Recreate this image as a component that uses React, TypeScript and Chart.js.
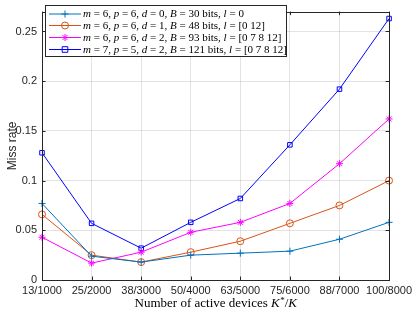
import React, { useEffect, useRef } from "react";
import { Chart, registerables } from "chart.js";

Chart.register(...registerables);

const categories = ["13/1000", "25/2000", "38/3000", "50/4000", "63/5000", "75/6000", "88/7000", "100/8000"];
const seriesD0 = [0.077, 0.024, 0.018, 0.025, 0.027, 0.029, 0.041, 0.058];
const seriesD1 = [0.066, 0.025, 0.018, 0.028, 0.039, 0.057, 0.075, 0.1];
const seriesD2 = [0.043, 0.017, 0.028, 0.048, 0.058, 0.077, 0.117, 0.162];
const seriesM7 = [0.128, 0.057, 0.032, 0.058, 0.082, 0.136, 0.192, 0.263];
const yTicks = [0, 0.05, 0.1, 0.15, 0.2, 0.25];

type Seg = { t: string; i?: boolean };
const legendLabels: Seg[][] = [
  [{ t: "m", i: true }, { t: " = 6, " }, { t: "p", i: true }, { t: " = 6, " }, { t: "d", i: true }, { t: " = 0, " }, { t: "B", i: true }, { t: " = 30 bits, " }, { t: "l", i: true }, { t: " = 0" }],
  [{ t: "m", i: true }, { t: " = 6, " }, { t: "p", i: true }, { t: " = 6, " }, { t: "d", i: true }, { t: " = 1, " }, { t: "B", i: true }, { t: " = 48 bits, " }, { t: "l", i: true }, { t: " = [0 12]" }],
  [{ t: "m", i: true }, { t: " = 6, " }, { t: "p", i: true }, { t: " = 6, " }, { t: "d", i: true }, { t: " = 2, " }, { t: "B", i: true }, { t: " = 93 bits, " }, { t: "l", i: true }, { t: " = [0 7 8 12]" }],
  [{ t: "m", i: true }, { t: " = 7, " }, { t: "p", i: true }, { t: " = 5, " }, { t: "d", i: true }, { t: " = 2, " }, { t: "B", i: true }, { t: " = 121 bits, " }, { t: "l", i: true }, { t: " = [0 7 8 12]" }],
];

const colors = ["#0072BD", "#D95319", "#FF00FF", "#0000FF"];
const markers = ["cross", "circle", "star", "rect"];
const AX = "#262626";
const SERIF = '"Liberation Serif", "DejaVu Serif", serif';
const SANS = '"Liberation Sans", Arial, sans-serif';

function drawMarker(ctx: CanvasRenderingContext2D, kind: string, x: number, y: number, r: number, color: string) {
  ctx.save();
  ctx.strokeStyle = color;
  ctx.lineWidth = 1;
  ctx.beginPath();
  if (kind === "cross") {
    ctx.moveTo(x - r, y); ctx.lineTo(x + r, y);
    ctx.moveTo(x, y - r); ctx.lineTo(x, y + r);
  } else if (kind === "circle") {
    ctx.arc(x, y, r, 0, Math.PI * 2);
  } else if (kind === "star") {
    ctx.moveTo(x - r, y); ctx.lineTo(x + r, y);
    ctx.moveTo(x, y - r); ctx.lineTo(x, y + r);
    const d = r * 0.7071;
    ctx.moveTo(x - d, y - d); ctx.lineTo(x + d, y + d);
    ctx.moveTo(x - d, y + d); ctx.lineTo(x + d, y - d);
  } else {
    ctx.rect(x - r * 0.8, y - r * 0.8, r * 1.6, r * 1.6);
  }
  ctx.stroke();
  ctx.restore();
}

function drawSegs(ctx: CanvasRenderingContext2D, segs: Seg[], x: number, y: number, size: number) {
  let cx = x;
  for (const s of segs) {
    ctx.font = `${s.i ? "italic " : ""}${size}px ${SERIF}`;
    ctx.fillText(s.t, cx, y);
    cx += ctx.measureText(s.t).width;
  }
}

const decorPlugin = {
  id: "decor",
  afterDraw(chart: any) {
    const ctx: CanvasRenderingContext2D = chart.ctx;
    const a = chart.chartArea;
    const xs = chart.scales.x;
    const ys = chart.scales.y;
    ctx.save();
    // box
    ctx.strokeStyle = AX;
    ctx.lineWidth = 1;
    ctx.strokeRect(Math.round(a.left) + 0.5, Math.round(a.top) + 0.5, Math.round(a.right - a.left), Math.round(a.bottom - a.top));
    // inward ticks
    ctx.beginPath();
    categories.forEach((_, i) => {
      const px = Math.round(xs.getPixelForValue(i)) + 0.5;
      ctx.moveTo(px, a.bottom); ctx.lineTo(px, a.bottom - 3.5);
      ctx.moveTo(px, a.top); ctx.lineTo(px, a.top + 3.5);
    });
    yTicks.forEach((v) => {
      const py = Math.round(ys.getPixelForValue(v)) + 0.5;
      ctx.moveTo(a.left, py); ctx.lineTo(a.left + 3.5, py);
      ctx.moveTo(a.right, py); ctx.lineTo(a.right - 3.5, py);
    });
    ctx.stroke();

    // legend
    const lx = 45.5, ly = 5.5, lw = 241, lh = 51;
    ctx.fillStyle = "#ffffff";
    ctx.fillRect(lx, ly, lw, lh);
    ctx.strokeStyle = AX;
    ctx.strokeRect(lx, ly, lw, lh);
    const rowY = [14, 25.5, 37.5, 49.5];
    legendLabels.forEach((segs, i) => {
      const y = rowY[i];
      ctx.strokeStyle = colors[i];
      ctx.lineWidth = 1;
      ctx.beginPath();
      ctx.moveTo(49, y); ctx.lineTo(81, y);
      ctx.stroke();
      drawMarker(ctx, markers[i], 65, y, 3.5, colors[i]);
      ctx.fillStyle = "#000000";
      ctx.textBaseline = "middle";
      ctx.textAlign = "left";
      drawSegs(ctx, segs, 83, y + 0.5, 11);
    });

    // x title
    const title: Seg[] = [{ t: "Number of active devices " }, { t: "K", i: true }];
    const size = 13;
    ctx.fillStyle = "#000000";
    ctx.textBaseline = "alphabetic";
    let w = 0;
    for (const s of title) { ctx.font = `${s.i ? "italic " : ""}${size}px ${SERIF}`; w += ctx.measureText(s.t).width; }
    ctx.font = `${size * 0.7}px ${SERIF}`; const wStar = ctx.measureText("*").width;
    ctx.font = `${size}px ${SERIF}`; const wSl = ctx.measureText("/").width;
    ctx.font = `italic ${size}px ${SERIF}`; const wK = ctx.measureText("K").width;
    const total = w + wStar + wSl + wK;
    let x0 = (a.left + a.right) / 2 - total / 2;
    const by = 307;
    drawSegs(ctx, title, x0, by, size);
    x0 += w;
    ctx.font = `${size * 0.7}px ${SERIF}`;
    ctx.fillText("*", x0 + 0.5, by - 4);
    x0 += wStar + 0.5;
    ctx.font = `${size}px ${SERIF}`;
    ctx.fillText("/", x0, by);
    x0 += wSl;
    ctx.font = `italic ${size}px ${SERIF}`;
    ctx.fillText("K", x0, by);
    ctx.restore();
  },
};

export default function App() {
  const ref = useRef<HTMLCanvasElement | null>(null);
  useEffect(() => {
    document.body.style.margin = "0";
    const data = [seriesD0, seriesD1, seriesD2, seriesM7];
    const chart = new Chart(ref.current as HTMLCanvasElement, {
      type: "line",
      data: {
        labels: categories,
        datasets: data.map((d, i) => ({
          label: "s" + i,
          data: d,
          borderColor: colors[i],
          backgroundColor: "rgba(0,0,0,0)",
          borderWidth: 1,
          pointStyle: markers[i] as any,
          pointRadius: i === 3 ? 3.2 : 3.5,
          pointBorderWidth: 1,
          pointBorderColor: colors[i],
          pointBackgroundColor: "rgba(0,0,0,0)",
          tension: 0,
          fill: false,
        })),
      },
      options: {
        animation: false,
        responsive: false,
        maintainAspectRatio: false,
        layout: { padding: { top: 3, right: 24, left: 0, bottom: 0 } },
        plugins: { legend: { display: false }, tooltip: { enabled: false } },
        scales: {
          x: {
            type: "category",
            offset: false,
            grid: { color: "rgba(38,38,38,0.13)", tickLength: 0, drawTicks: false },
            border: { display: false },
            ticks: { color: AX, font: { family: SANS, size: 11 }, padding: 4, maxRotation: 0, autoSkip: false },
            afterFit: (s: any) => { s.height = 32; },
          },
          y: {
            min: 0,
            max: 0.27,
            grid: { color: "rgba(38,38,38,0.13)", drawTicks: false },
            border: { display: false },
            afterBuildTicks: (s: any) => { s.ticks = yTicks.map((v) => ({ value: v })); },
            ticks: { color: AX, font: { family: SANS, size: 11 }, padding: 5, callback: (v: any) => String(Number(v)) },
            title: { display: true, text: "Miss rate", color: AX, font: { family: SANS, size: 12 }, padding: { top: 5, bottom: 0 } },
            afterFit: (s: any) => { s.width = 42; },
          },
        },
      },
      plugins: [decorPlugin],
    });
    return () => chart.destroy();
  }, []);
  return (
    <div style={{ position: "absolute", left: 0, top: 0, width: 416, height: 312 }}>
      <canvas ref={ref} width={416} height={312} style={{ display: "block", width: 416, height: 312 }} />
    </div>
  );
}
